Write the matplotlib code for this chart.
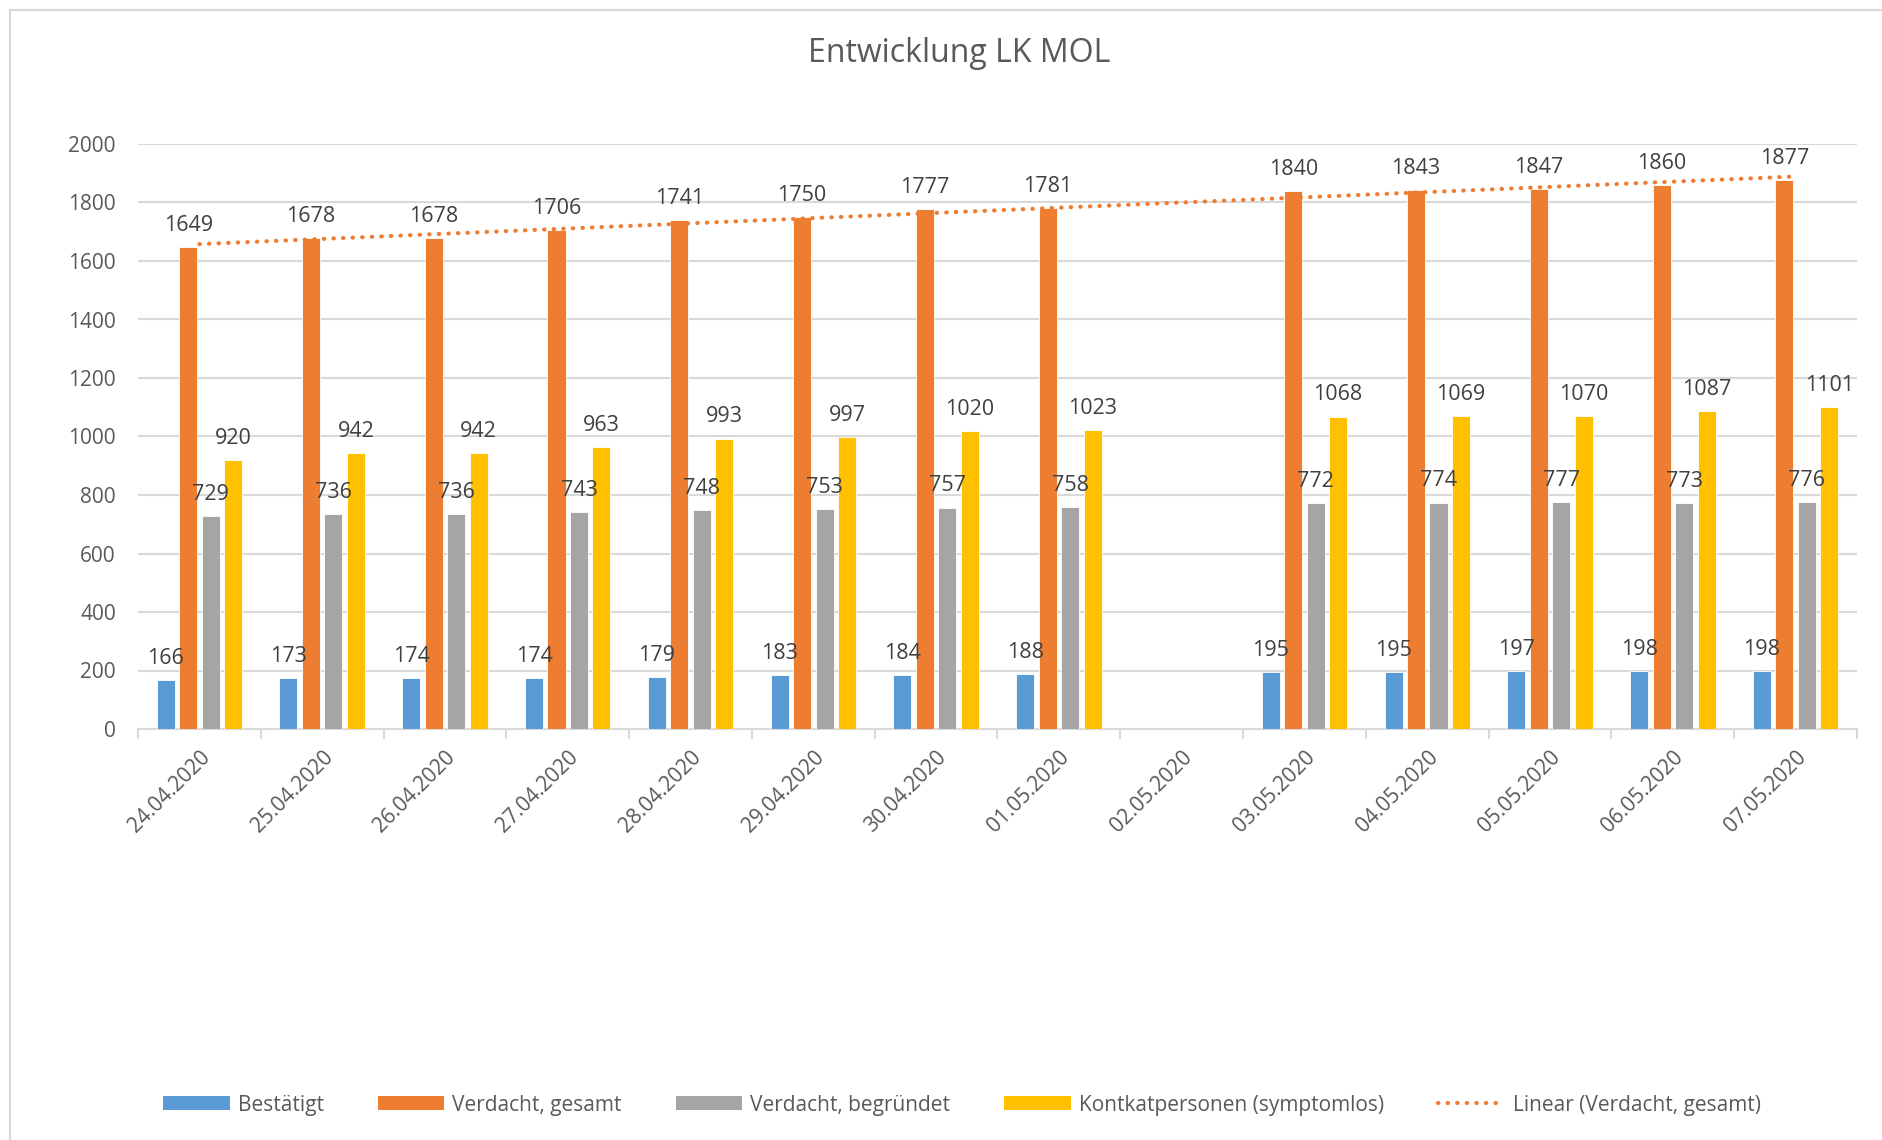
import matplotlib
matplotlib.use("Agg")
import matplotlib.pyplot as plt
import numpy as np
from matplotlib.lines import Line2D
from matplotlib.patches import Patch

plt.rcParams["font.family"] = ["Open Sans", "DejaVu Sans"]

dates = ["24.04.2020", "25.04.2020", "26.04.2020", "27.04.2020", "28.04.2020",
         "29.04.2020", "30.04.2020", "01.05.2020", "02.05.2020", "03.05.2020",
         "04.05.2020", "05.05.2020", "06.05.2020", "07.05.2020"]
bestaetigt = [166, 173, 174, 174, 179, 183, 184, 188, None, 195, 195, 197, 198, 198]
verdacht_gesamt = [1649, 1678, 1678, 1706, 1741, 1750, 1777, 1781, None, 1840, 1843, 1847, 1860, 1877]
verdacht_begruendet = [729, 736, 736, 743, 748, 753, 757, 758, None, 772, 774, 777, 773, 776]
kontaktpersonen = [920, 942, 942, 963, 993, 997, 1020, 1023, None, 1068, 1069, 1070, 1087, 1101]

series = [
    ("Bestätigt", bestaetigt, "#5B9BD5"),
    ("Verdacht, gesamt", verdacht_gesamt, "#ED7D31"),
    ("Verdacht, begründet", verdacht_begruendet, "#A5A5A5"),
    ("Kontkatpersonen (symptomlos)", kontaktpersonen, "#FFC000"),
]

TEXT = "#595959"
LABEL = "#404040"
GRID = "#D9D9D9"
FS = 15

fig = plt.figure(figsize=(18.83, 11.4), dpi=100)
ax = fig.add_axes([138 / 1883, 1 - 729 / 1140, (1857 - 138) / 1883, (729 - 144) / 1140])

x = np.arange(len(dates))
step, width = 0.183, 0.147
for i, (name, vals, color) in enumerate(series):
    off = (i - 1.5) * step
    for xi, v in zip(x, vals):
        if v is None:
            continue
        ax.bar(xi + off, v, width=width, color=color, edgecolor="white", linewidth=0.6, zorder=3)
        ax.annotate(str(v), (xi + off, v), xytext=(0, 8), textcoords="offset points",
                    ha="center", va="bottom", fontsize=FS + 0.5, color=LABEL, zorder=5)

# linear trend of Verdacht, gesamt (Excel uses category index 1..n, blanks skipped)
xs = np.array([i + 1 for i, v in enumerate(verdacht_gesamt) if v is not None])
ys = np.array([v for v in verdacht_gesamt if v is not None])
k, d = np.polyfit(xs, ys, 1)
tx = np.array([1, len(dates)])
ax.plot(tx - 1, k * tx + d, color="#ED7D31", linestyle=(0, (0.1, 2.2)), linewidth=3,
        dash_capstyle="round", zorder=4)

ax.set_xlim(-0.5, len(dates) - 0.5)
ax.set_ylim(0, 2000)
ax.set_yticks(range(0, 2001, 200))
ax.yaxis.grid(True, color=GRID, linewidth=1.5, zorder=0)
ax.set_axisbelow(True)
for s in ["top", "right", "left"]:
    ax.spines[s].set_visible(False)
ax.spines["bottom"].set_color(GRID)
ax.spines["bottom"].set_linewidth(1.5)

ax.set_xticks(x)
ax.set_xticklabels(dates, rotation=45, ha="right", va="top", rotation_mode="anchor")
ax.set_xticks(np.arange(-0.5, len(dates)), minor=True)
ax.tick_params(axis="x", which="major", length=0, pad=13, labelsize=FS, labelcolor=TEXT)
ax.tick_params(axis="x", which="minor", length=7, width=1.5, color=GRID)
ax.tick_params(axis="y", length=0, pad=16, labelsize=FS, labelcolor=TEXT)

fig.text(959 / 1883, 1 - 54 / 1140, "Entwicklung LK MOL", ha="center", va="center",
         fontsize=23, color=TEXT)

handles = [Patch(facecolor=c, edgecolor="none") for _, _, c in series]
handles.append(Line2D([0], [0], color="#ED7D31", linestyle=(0, (0.1, 2.2)), linewidth=3,
                      dash_capstyle="round"))
labels = [n for n, _, _ in series] + ["Linear (Verdacht, gesamt)"]
fig.legend(handles, labels, loc="center", bbox_to_anchor=(962 / 1883, 1 - 1105 / 1140),
           ncol=5, frameon=False, fontsize=FS, labelcolor=TEXT, handlelength=3.17,
           handleheight=0.66, handletextpad=0.4, columnspacing=2.6)

# chart area border (only left and top visible in the crop)
fig.add_artist(Line2D([10 / 1883, 10 / 1883], [0, 1 - 10 / 1140], transform=fig.transFigure,
                      color=GRID, linewidth=1.5))
fig.add_artist(Line2D([10 / 1883, 1], [1 - 10 / 1140, 1 - 10 / 1140], transform=fig.transFigure,
                      color=GRID, linewidth=1.5))

fig.savefig("out.png", dpi=100)
